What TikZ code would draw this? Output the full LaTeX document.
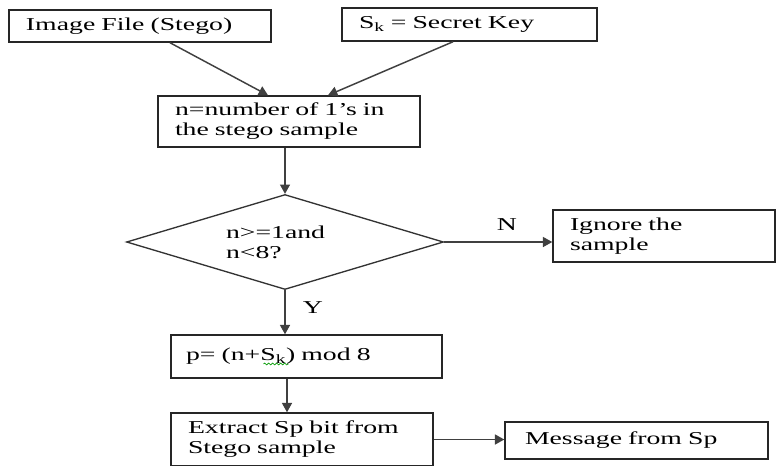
\documentclass[tikz,border=0pt]{standalone}
\usepackage{fontspec}
\setmainfont{Liberation Serif}[FakeStretch=1.53]
\usetikzlibrary{arrows.meta,shapes.geometric,decorations.pathmorphing}
\begin{document}
\begin{tikzpicture}[x=0.75pt,y=-0.75pt,
  txt/.style={font=\fontsize{13.6}{15}\selectfont},
  box/.style={txt, draw=black!85, line width=1.1pt, rectangle, inner xsep=12.75pt, inner ysep=0pt, align=left},
  arr/.style={draw=black!75, line width=1.1pt, -{Triangle[length=7pt,width=7.5pt]}}]
\useasboundingbox (0,0) rectangle (777,465);

\node[box, minimum width=196.5pt, minimum height=24pt, text width=171pt] (img) at (140,26) {Image File (Stego)};
\node[box, minimum width=191.25pt, minimum height=24.75pt, text width=165.75pt] (key) at (469.5,24.5) {S\textsubscript{k} = Secret Key};
\node[box, minimum width=196.5pt, minimum height=38.25pt, text width=171pt] (cnt) at (289,121.5) {n=number of 1’s in\\the stego sample};
\node[txt, diamond, draw=black!80, line width=1pt, inner sep=0pt, shape aspect=3.3, minimum width=237.75pt, minimum height=71.25pt, text width=88.5pt, align=left] (dec) at (285,242) {n>=1and\\n<8?};
\node[box, minimum width=166.5pt, minimum height=39pt, text width=141pt] (ign) at (664,236) {Ignore the\\sample};
\node[box, minimum width=203.25pt, minimum height=32.25pt, inner xsep=11.25pt, text width=180.75pt] (pbox) at (306.5,356.5) {p= (n+S\textsubscript{k}) mod 8};
\node[box, minimum width=196.5pt, minimum height=39.75pt, text width=171pt] (ext) at (302,439.5) {Extract Sp bit from\\Stego sample};
\node[box, minimum width=197.25pt, minimum height=27.75pt, text width=167.25pt, inner xsep=15pt] (msg) at (636.5,440.5) {Message from Sp};

\node[txt] (nlab) at (507,225) {N};
\node[txt] (ylab) at (313,308) {Y};

\draw[arr] ([xshift=22.5pt]img.south) -- ([xshift=-15.75pt]cnt.north);
\draw[arr] ([xshift=-12.375pt]key.south) -- ([xshift=29.25pt]cnt.north);
\draw[arr] (cnt.south -| dec.north) -- (dec.north);
\draw[arr] (dec.east) -- (dec.east -| ign.west);
\draw[arr] (dec.south) -- (dec.south |- pbox.north);
\draw[arr] ([xshift=-14.625pt]pbox.south) -- ([xshift=-14.625pt]pbox.south |- ext.north);
\draw[arr] (ext.east) -- (ext.east -| msg.west);

\draw[green!60!black, line width=0.5pt, decorate, decoration={snake, amplitude=0.7pt, segment length=3pt}]
  ([xshift=-32.3pt,yshift=-5.6pt]pbox.center) -- ([xshift=-13.4pt,yshift=-5.6pt]pbox.center);
\end{tikzpicture}
\end{document}
